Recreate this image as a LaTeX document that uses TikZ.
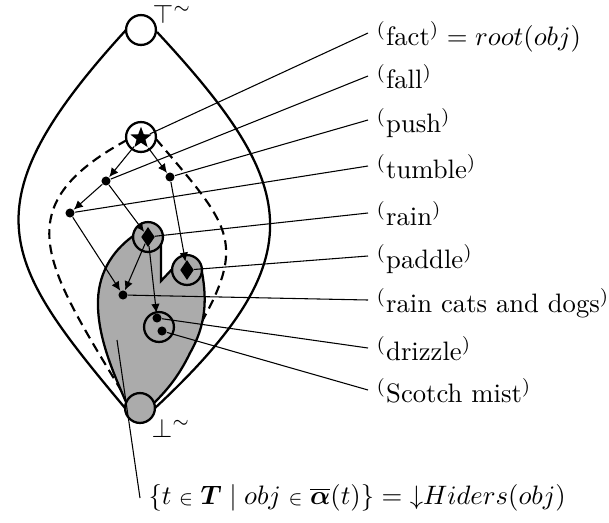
\documentclass[tikz,border=0pt]{standalone}
\usepackage{amsmath}
\usetikzlibrary{shapes.geometric,arrows.meta}
\definecolor{blobgray}{gray}{0.67}
\newcommand{\smin}{\mathrel{\scriptstyle\in}}
\begin{document}
\begin{tikzpicture}[x=0.375pt,y=-0.375pt,
  thickline/.style={line width=0.85pt},
  dashline/.style={line width=0.8pt, dash pattern=on 3.6pt off 2.2pt},
  ring/.style={circle, draw, line width=0.85pt, minimum size=11.2pt, inner sep=0pt},
  dotnode/.style={circle, fill, minimum size=3.4pt, inner sep=0pt},
  dia/.style={diamond, fill, minimum width=5.2pt, minimum height=7.6pt, inner sep=0pt},
  starmark/.style={star, star points=5, star point ratio=2.4, fill, minimum size=8.4pt, inner sep=0pt},
  arr/.style={-{Latex[length=3.4pt,width=3.2pt]}, line width=0.4pt},
  lbl/.style={anchor=base west, inner xsep=3pt, inner ysep=0pt, text height=10pt, text depth=1pt},
  lead/.style={line width=0.4pt}
]
\useasboundingbox (0,0) rectangle (609,522);

% outer lens
\draw[thickline] (126,30) .. controls (-36,207) and (3,262) .. (125,408);
\draw[thickline] (157,32) .. controls (298,184) and (318,256) .. (155,408);

% dashed lens
\draw[dashline] (127,140) .. controls (3,207.5) and (46,266) .. (127,400);
\draw[dashline] (156,139) .. controls (246,245) and (254,245) .. (153,400);

% gray region
\filldraw[fill=blobgray, thickline]
  (126,402) .. controls (112,370) and (97,335) .. (98,300)
  .. controls (99,270) and (115,248) .. (136,234)
  -- (148,237) -- (161,243) -- (161,281) -- (175,266) -- (187,270) -- (202,272)
  .. controls (207,300) and (206,325) .. (190,353)
  .. controls (178,378) and (165,392) .. (154,403)
  -- (140,408) -- cycle;

% rings
\node[ring, fill=white] (top) at (141,30) {};
\node[ring, fill=blobgray] (bot) at (140,408) {};
\node[ring, fill=white] (starring) at (141,137) {};
\node[ring, fill=blobgray] (rainring) at (148,237) {};
\node[ring, fill=blobgray] (paddlering) at (187,270) {};
\node[ring] (drizzlering) at (159,327) {};

\node[anchor=base west, inner sep=0pt] (ttop) at (152,23) {$\top^{\sim}$};
\node[anchor=base west, inner sep=0pt] (tbot) at (151,437) {$\bot^{\sim}$};

% markers
\node[starmark] (starnode) at (141,138) {};
\node[dia] (raind) at (148,237) {};
\node[dia] (paddled) at (187,270) {};
\node[dotnode] (fall) at (106,181) {};
\node[dotnode] (push) at (170,177) {};
\node[dotnode] (tumble) at (70,213) {};
\node[dotnode] (rcd) at (123,295) {};
\node[dotnode] (drz) at (157,318) {};
\node[dotnode] (mist) at (162,331) {};
\coordinate (hid) at (117,340);

% labels
\node[lbl] (lfact) at (368,45) {$^{(}$fact$^{)} = root(obj)$};
\node[lbl] (lfall) at (368,88) {$^{(}$fall$^{)}$};
\node[lbl] (lpush) at (368,132) {$^{(}$push$^{)}$};
\node[lbl] (ltumble) at (368,178) {$^{(}$tumble$^{)}$};
\node[lbl] (lrain) at (368,225) {$^{(}$rain$^{)}$};
\node[lbl] (lpaddle) at (368,268) {$^{(}$paddle$^{)}$};
\node[lbl] (lrcd) at (368,312) {$^{(}$rain cats and dogs$^{)}$};
\node[lbl] (ldrizzle) at (368,360) {$^{(}$drizzle$^{)}$};
\node[lbl] (lmist) at (368,402) {$^{(}$Scotch mist$^{)}$};
\node[anchor=west, inner xsep=3pt] (lhid) at (140,498)
  {$\{t \smin \boldsymbol{T} \mid obj \smin \overline{\boldsymbol{\alpha}}(t)\} = {\downarrow}Hiders(obj)$};

% leads
\draw[lead] (starnode) -- (lfact.west);
\draw[lead] (fall) -- (lfall.west);
\draw[lead] (push) -- (lpush.west);
\draw[lead] (tumble) -- (ltumble.west);
\draw[lead] (raind) -- (lrain.west);
\draw[lead] (paddled) -- (lpaddle.west);
\draw[lead] (rcd) -- (lrcd.west);
\draw[lead] (drz) -- (ldrizzle.west);
\draw[lead] (mist) -- (lmist.west);
\draw[lead] (hid) -- (lhid.west);

% arrows
\draw[arr] (starnode) -- (fall);
\draw[arr] (starnode) -- (push);
\draw[arr] (fall) -- (tumble);
\draw[arr] (fall) -- (raind);
\draw[arr] (push) -- (paddled);
\draw[arr] (tumble) -- (rcd);
\draw[arr] (raind) -- (rcd);
\draw[arr] (raind) -- (drz);
\end{tikzpicture}
\end{document}
